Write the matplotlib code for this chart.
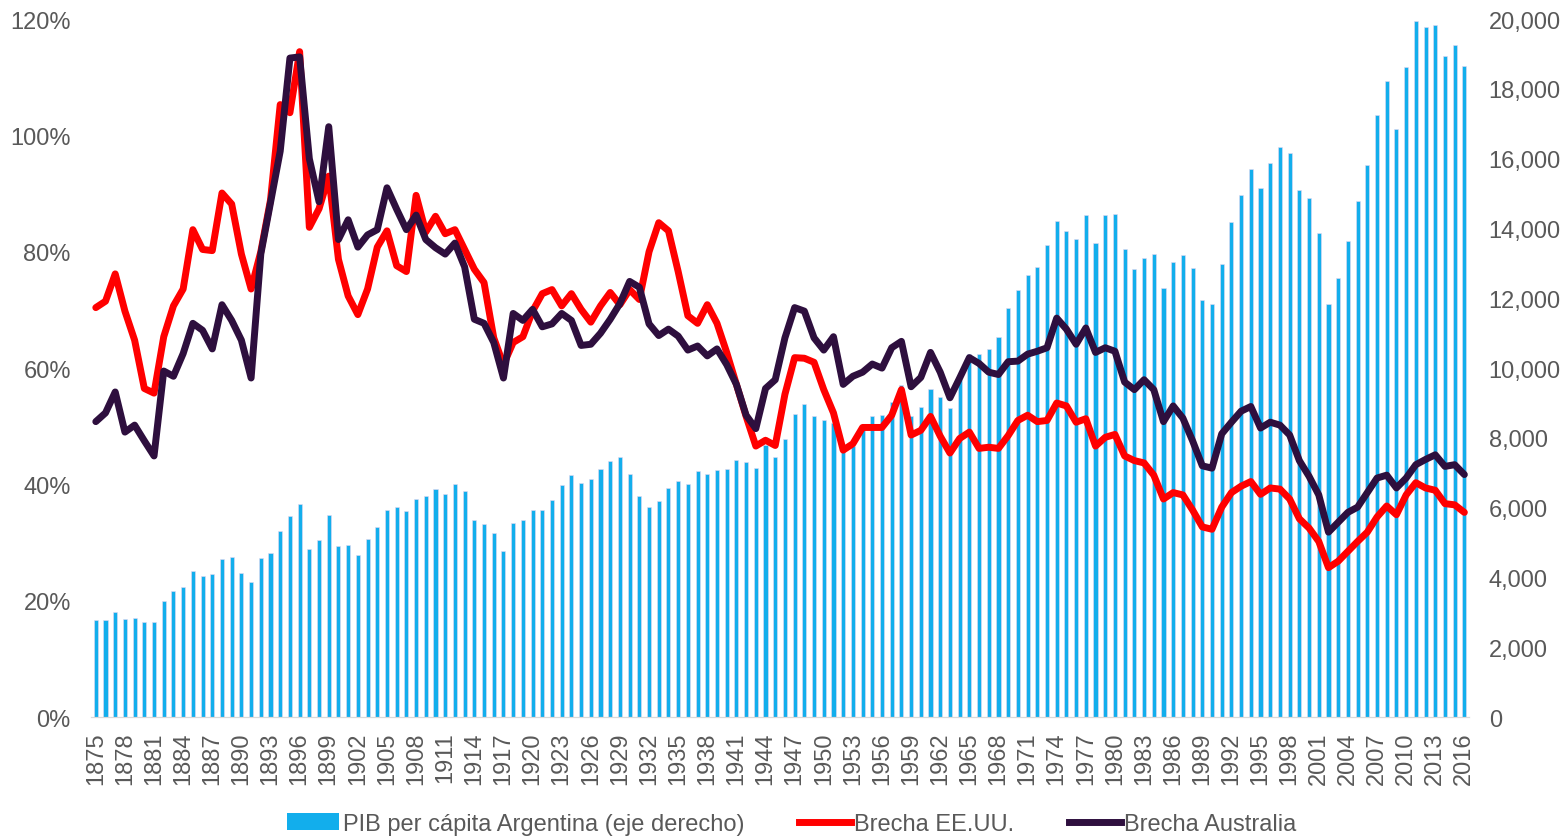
import matplotlib.pyplot as plt
import matplotlib.ticker as mticker
import numpy as np
from matplotlib.lines import Line2D
from matplotlib.patches import Patch

plt.rcParams["font.family"] = ["Liberation Sans", "DejaVu Sans"]

years = list(range(1875, 2017))

# PIB per cápita Argentina (eje derecho)
pib = [
    2770, 2770, 3010, 2800, 2830, 2715, 2715, 3320, 3600, 3730,
    4180, 4040, 4095, 4530, 4575, 4120, 3885, 4560, 4715, 5335,
    5755, 6120, 4810, 5065, 5785, 4910, 4925, 4645, 5095, 5445,
    5925, 6020, 5895, 6245, 6330, 6530, 6390, 6670, 6485, 5640,
    5530, 5275, 4755, 5560, 5655, 5925, 5925, 6220, 6640, 6935,
    6700, 6825, 7105, 7330, 7445, 6965, 6330, 6020, 6190, 6555,
    6755, 6670, 7050, 6965, 7075, 7105, 7360, 7315, 7135, 7795,
    7445, 7980, 8680, 8965, 8625, 8510, 8440, 7620, 7780, 8330,
    8640, 8670, 9035, 9525, 8640, 8890, 9410, 9175, 8850, 9670,
    10410, 10410, 10555, 10905, 11735, 12225, 12665, 12900, 13520, 14210,
    13930, 13705, 14380, 13580, 14380, 14410, 13410, 12830, 13155, 13280,
    12285, 13030, 13255, 12860, 11945, 11845, 12975, 14185, 14955, 15715,
    15155, 15885, 16335, 16165, 15110, 14885, 13885, 11845, 12595, 13635,
    14800, 15830, 17265, 18235, 16855, 18615, 19950, 19780, 19840, 18950,
    19260, 18645,
]

# Brecha EE.UU. (%)
brecha_eeuu = [
    70.4, 71.5, 76.2, 69.8, 64.8, 56.5, 55.7, 65.4, 70.7, 73.6,
    83.8, 80.4, 80.2, 90.1, 88.2, 79.6, 73.6, 80.0, 88.9, 105.3,
    103.9, 114.4, 84.2, 87.4, 93.0, 78.7, 72.4, 69.2, 73.6, 80.8,
    83.6, 77.6, 76.6, 89.7, 83.4, 86.1, 83.1, 83.8, 80.4, 77.0,
    74.7, 65.2, 60.6, 64.4, 65.4, 69.8, 72.8, 73.5, 70.7, 72.8,
    70.1, 67.9, 70.7, 73.0, 70.9, 73.5, 71.8, 80.0, 85.0, 83.6,
    76.6, 69.0, 67.7, 70.9, 67.7, 62.7, 57.2, 51.7, 46.6, 47.6,
    46.7, 55.5, 61.8, 61.7, 61.0, 56.3, 52.3, 45.9, 47.0, 49.8,
    49.8, 49.8, 51.9, 56.3, 48.5, 49.3, 51.7, 48.3, 45.4, 47.9,
    49.0, 46.2, 46.4, 46.2, 48.4, 51.0, 51.9, 50.8, 51.0, 54.0,
    53.5, 50.7, 51.3, 46.6, 48.1, 48.6, 44.9, 44.1, 43.7, 41.6,
    37.5, 38.6, 38.2, 35.6, 32.7, 32.3, 36.1, 38.6, 39.7, 40.5,
    38.3, 39.4, 39.2, 37.5, 34.1, 32.5, 30.2, 25.7, 26.8, 28.5,
    30.2, 31.8, 34.4, 36.3, 34.8, 38.2, 40.3, 39.4, 39.0, 36.7,
    36.5, 35.2,
]

# Brecha Australia (%)
brecha_australia = [
    50.8, 52.3, 55.9, 49.0, 50.2, 47.5, 44.9, 59.5, 58.6, 62.5,
    67.7, 66.5, 63.3, 70.9, 68.2, 64.8, 58.3, 79.6, 88.4, 97.3,
    113.3, 113.5, 96.0, 88.6, 101.5, 82.1, 85.5, 80.8, 82.9, 83.8,
    91.0, 87.3, 83.8, 86.3, 82.1, 80.7, 79.6, 81.5, 77.4, 68.4,
    67.7, 64.4, 58.3, 69.4, 68.2, 70.1, 67.1, 67.6, 69.4, 68.2,
    63.9, 64.1, 66.0, 68.4, 71.1, 74.9, 73.9, 67.6, 65.6, 66.7,
    65.5, 63.1, 63.8, 62.1, 63.3, 60.6, 57.2, 51.9, 49.6, 56.5,
    58.0, 65.2, 70.4, 69.8, 65.2, 63.1, 65.4, 57.2, 58.6, 59.3,
    60.7, 60.0, 63.5, 64.6, 56.8, 58.4, 62.7, 59.3, 54.9, 58.3,
    61.8, 60.8, 59.3, 58.9, 61.1, 61.2, 62.4, 62.9, 63.5, 68.6,
    66.7, 64.1, 66.9, 62.7, 63.5, 62.9, 57.6, 56.3, 58.0, 56.3,
    50.8, 53.5, 51.4, 47.5, 43.2, 42.8, 48.7, 50.7, 52.6, 53.4,
    49.7, 50.7, 50.2, 48.5, 44.1, 41.4, 38.2, 31.8, 33.5, 35.2,
    36.1, 38.6, 41.1, 41.6, 39.4, 41.1, 43.4, 44.3, 45.1, 43.1,
    43.4, 41.7,
]

BLUE = "#12AEEC"
RED = "#FF0000"
PURPLE = "#2E0F3E"
GREY = "#595959"

x = np.arange(len(years))

fig = plt.figure(figsize=(15.68, 8.37), dpi=100)
ax1 = fig.add_axes([0.058, 0.142, 0.879, 0.834])
ax2 = ax1.twinx()

# bars on the right axis, lines on top on the left axis
ax2.bar(x, pib, width=0.42, color=BLUE, edgecolor="#E6D8F0", linewidth=0.4)
ax1.plot(x, np.array(brecha_eeuu) / 100, color=RED, lw=5, solid_joinstyle="round",
         solid_capstyle="round")
ax1.plot(x, np.array(brecha_australia) / 100, color=PURPLE, lw=5, solid_joinstyle="round",
         solid_capstyle="round")
ax1.set_zorder(ax2.get_zorder() + 1)
ax1.patch.set_visible(False)

ax1.set_xlim(-0.5, len(years) - 0.5)
ax1.set_ylim(0, 1.2)
ax2.set_ylim(0, 20000)

ax1.yaxis.set_major_locator(mticker.MultipleLocator(0.2))
ax1.yaxis.set_major_formatter(mticker.FuncFormatter(lambda v, p: f"{v * 100:.0f}%"))
ax2.yaxis.set_major_locator(mticker.MultipleLocator(2000))
ax2.yaxis.set_major_formatter(mticker.FuncFormatter(lambda v, p: f"{v:,.0f}"))

ax1.set_xticks(x[::3])
ax1.set_xticklabels([str(y) for y in years[::3]], rotation=90)

for ax in (ax1, ax2):
    for side in ("top", "left", "right"):
        ax.spines[side].set_visible(False)
    ax.spines["bottom"].set_color("#D9D9D9")
    ax.tick_params(length=0, labelsize=17, labelcolor=GREY)
ax1.tick_params(axis="y", pad=14.5)
ax1.tick_params(axis="x", pad=10)
ax2.tick_params(axis="y", pad=14)

handles = [
    Patch(facecolor=BLUE, edgecolor="none"),
    Line2D([], [], color=RED, lw=5),
    Line2D([], [], color=PURPLE, lw=5),
]
labels = ["PIB per cápita Argentina (eje derecho)", "Brecha EE.UU.", "Brecha Australia"]
fig.legend(handles, labels, loc="lower center", bbox_to_anchor=(0.505, -0.024), ncol=3,
           frameon=False, fontsize=17, labelcolor=GREY, handlelength=2.2,
           handletextpad=0.15, columnspacing=2.3)

fig.savefig("out.png", dpi=100)
